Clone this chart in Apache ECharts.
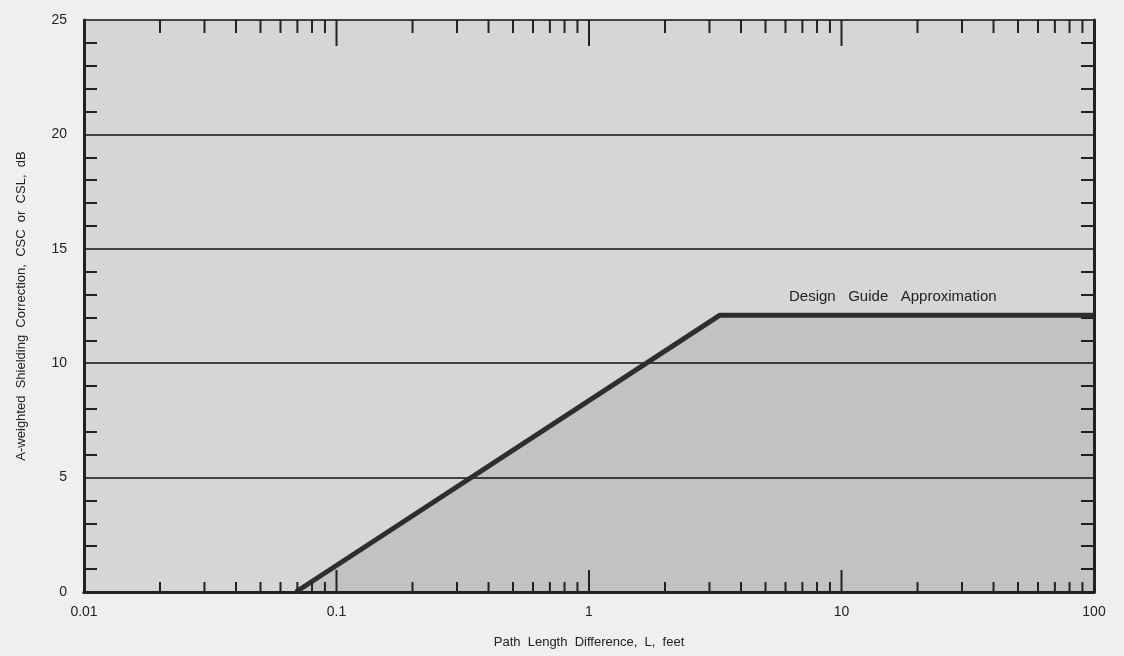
<!DOCTYPE html>
<html>
<head>
<meta charset="utf-8">
<script src="https://cdn.jsdelivr.net/npm/echarts@6/dist/echarts.min.js"></script>
<style>
  html, body { margin: 0; padding: 0; background: #efefef; }
  #chart { width: 1124px; height: 656px; }
</style>
</head>
<body>
<div id="chart"></div>
<script>
// design guide curve (path length difference in feet, correction in dB)
var pathDiff = [0.069, 3.3, 100];
var shielding = [0, 12.1, 12.1];

// log axis tick positions
var decades = [0.01, 0.1, 1, 10, 100];
var minorSteps = [2, 3, 4, 5, 6, 7, 8, 9];

var tickData = [];
for (var i = 0; i < decades.length; i++) {
  tickData.push([decades[i], 1]);
  if (i < decades.length - 1) {
    for (var j = 0; j < minorSteps.length; j++) {
      tickData.push([decades[i] * minorSteps[j], 0]);
    }
  }
}

var chart = echarts.init(document.getElementById("chart"));

var fontName = "Liberation Sans, Arial, sans-serif";
var axisFont = { color: "#222", fontSize: 14, fontFamily: fontName };

chart.setOption({
  backgroundColor: "#efefef",
  animation: false,
  grid: { left: 84, right: 30, top: 20, bottom: 64, show: true, backgroundColor: "#d6d6d6", borderWidth: 0 },
  xAxis: [
    {
      type: "log",
      logBase: 10,
      min: 0.01,
      max: 100,
      name: "Path  Length  Difference,  L,  feet",
      nameLocation: "middle",
      nameGap: 44,
      nameTextStyle: { color: "#222", fontSize: 13, fontFamily: fontName },
      axisLine: { lineStyle: { color: "#222", width: 3 } },
      axisTick: { show: false },
      axisLabel: Object.assign({ margin: 13, formatter: function (v) { return String(+v.toPrecision(3)); } }, axisFont),
      splitLine: { show: false }
    },
    {
      type: "log",
      logBase: 10,
      min: 0.01,
      max: 100,
      position: "top",
      axisLine: { lineStyle: { color: "#222", width: 3 } },
      axisTick: { show: false },
      axisLabel: { show: false },
      splitLine: { show: false }
    }
  ],
  yAxis: [
    {
      type: "value",
      min: 0,
      max: 25,
      interval: 5,
      name: "A-weighted  Shielding  Correction,  CSC  or  CSL,  dB",
      nameLocation: "middle",
      nameGap: 56,
      nameTextStyle: { color: "#222", fontSize: 13, fontFamily: fontName },
      axisLine: { show: true, lineStyle: { color: "#222", width: 3 } },
      axisTick: { show: false, inside: true },
      minorTick: { show: true, splitNumber: 5, length: 13, lineStyle: { color: "#222", width: 2 } },
      axisLabel: Object.assign({ margin: 17 }, axisFont),
      splitLine: { show: true, lineStyle: { color: "#111", width: 1.5 } }
    },
    {
      type: "value",
      min: 0,
      max: 25,
      interval: 5,
      position: "right",
      axisLine: { show: true, lineStyle: { color: "#222", width: 3 } },
      axisTick: { show: false, inside: true },
      minorTick: { show: true, splitNumber: 5, length: 13, lineStyle: { color: "#222", width: 2 } },
      axisLabel: { show: false },
      splitLine: { show: false }
    }
  ],
  graphic: [
    {
      type: "text",
      left: 789,
      top: 289,
      style: {
        text: "Design   Guide   Approximation",
        fill: "#222",
        fontSize: 15,
        fontFamily: fontName
      }
    }
  ],
  series: [
    {
      type: "line",
      data: pathDiff.map(function (x, i) { return [x, shielding[i]]; }),
      symbol: "none",
      lineStyle: { color: "#2e2e2e", width: 5 },
      areaStyle: { color: "rgba(0,0,0,0.13)" },
      z: 3
    },
    {
      // inward ticks on bottom and top of log axis
      type: "custom",
      data: tickData,
      z: 5,
      silent: true,
      renderItem: function (params, api) {
        var x = api.value(0);
        var major = api.value(1) === 1;
        var bot = api.coord([x, 0]);
        var top = api.coord([x, 25]);
        var lb = major ? 22 : 10;
        var lt = major ? 26 : 13;
        return {
          type: "group",
          children: [
            { type: "line", shape: { x1: bot[0], y1: bot[1], x2: bot[0], y2: bot[1] - lb }, style: { stroke: "#222", lineWidth: 2 } },
            { type: "line", shape: { x1: top[0], y1: top[1], x2: top[0], y2: top[1] + lt }, style: { stroke: "#222", lineWidth: 2 } }
          ]
        };
      }
    }
  ]
});
</script>
</body>
</html>
